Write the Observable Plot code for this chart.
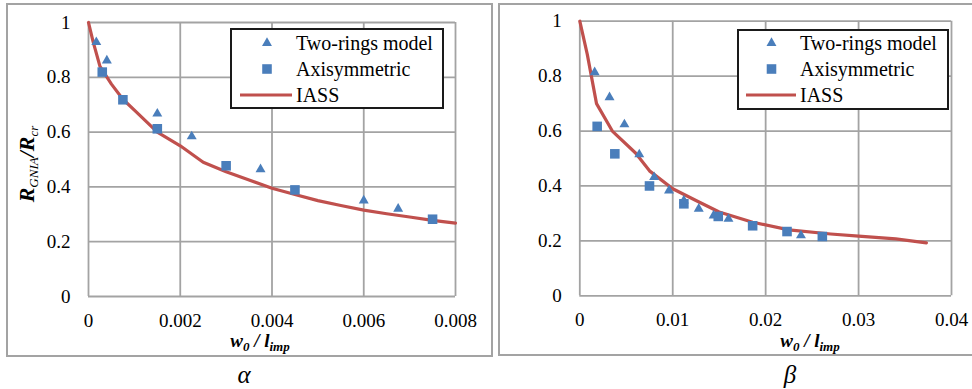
<!DOCTYPE html>
<html>
<head>
<meta charset="utf-8">
<script src="https://cdn.jsdelivr.net/npm/d3@7"></script>
<script src="https://cdn.jsdelivr.net/npm/@observablehq/plot@0.6"></script>
<style>
  html, body { margin: 0; padding: 0; background: #fff; }
  #root { position: relative; width: 972px; height: 389px; overflow: hidden; font-family: 'Liberation Serif', 'Times New Roman', serif; }
  .panel { position: absolute; box-sizing: border-box; border: 2px solid #a3a3a3; }
  .plotwrap { position: absolute; top: 0; }
  .legend { position: absolute; box-sizing: border-box; border: 2px solid #1a1a1a; background: #fff; }
  .legend svg { position: absolute; left: 0; top: 0; }
  .xlab { position: absolute; font: italic bold 19px 'Liberation Serif', serif; white-space: nowrap; transform: translate(-50%, -50%); }
  .xlab sub { font-size: 13px; vertical-align: -4px; }
  .ylab { position: absolute; font: italic bold 22px 'Liberation Serif', serif; white-space: nowrap; transform: translate(-50%, -50%) rotate(-90deg); }
  .ylab sub { font-size: 13px; font-weight: normal; vertical-align: -4px; }
  .cap { position: absolute; font: italic 25px 'Liberation Serif', serif; transform: translate(-50%, -50%); }
</style>
</head>
<body>
<div id="root"></div>
<script>
// ---------- data ----------
const yTicks = [0, 0.2, 0.4, 0.6, 0.8, 1];
const alphaXTicks = [0, 0.002, 0.004, 0.006, 0.008];
const betaXTicks = [0, 0.01, 0.02, 0.03, 0.04];
const seriesNames = ["Two-rings model", "Axisymmetric", "IASS"];
const panelCaptions = ["α", "β"];

const alphaTwoRingsX = [0.00017, 0.0004, 0.0015, 0.00225, 0.00375, 0.006, 0.00675];
const alphaTwoRingsY = [0.928, 0.861, 0.667, 0.584, 0.464, 0.35, 0.32];
const alphaAxiX = [0.0003, 0.00075, 0.0015, 0.003, 0.0045, 0.0075];
const alphaAxiY = [0.819, 0.718, 0.612, 0.477, 0.389, 0.282];
const alphaIassX = [0, 0.0001, 0.00025, 0.0005, 0.00075, 0.001, 0.0015, 0.002, 0.0025, 0.003, 0.0035, 0.004, 0.0045, 0.005, 0.0055, 0.006, 0.0065, 0.007, 0.0075, 0.008];
const alphaIassY = [1, 0.93, 0.84, 0.775, 0.72, 0.68, 0.6, 0.55, 0.49, 0.455, 0.425, 0.395, 0.372, 0.35, 0.332, 0.315, 0.302, 0.29, 0.278, 0.268];

const betaTwoRingsX = [0.0016, 0.0032, 0.0048, 0.0064, 0.008, 0.0096, 0.0112, 0.0128, 0.0144, 0.016, 0.0238];
const betaTwoRingsY = [0.814, 0.723, 0.624, 0.515, 0.432, 0.383, 0.347, 0.317, 0.292, 0.28, 0.22];
const betaAxiX = [0.00187, 0.00377, 0.0075, 0.0112, 0.0149, 0.0186, 0.0223, 0.0261];
const betaAxiY = [0.617, 0.517, 0.4, 0.335, 0.289, 0.255, 0.234, 0.216];
const betaIassX = [0, 0.0008, 0.0018, 0.0035, 0.006, 0.0075, 0.01, 0.0125, 0.015, 0.0186, 0.0225, 0.027, 0.03, 0.034, 0.0373];
const betaIassY = [1, 0.88, 0.70, 0.60, 0.52, 0.455, 0.39, 0.347, 0.305, 0.268, 0.24, 0.225, 0.217, 0.207, 0.193];

// ---------- styling ----------
const BLUE = "#4a7ebb";
const RED = "#c0504d";
const GRID = "#a3a3a3";
const fmt = d => String(+d.toFixed(4));
const zip = (xs, ys) => xs.map((x, i) => ({x, y: ys[i]}));

function makePlot({xTicks, tr, ax, iass, width, height, ml, mr, mt, mb}) {
  return Plot.plot({
    width, height,
    marginLeft: ml, marginRight: mr, marginTop: mt, marginBottom: mb,
    style: {fontFamily: "'Liberation Serif', 'Times New Roman', serif", fontSize: "19px", color: "#000", background: "transparent", overflow: "visible"},
    x: {domain: [xTicks[0], xTicks[xTicks.length - 1]]},
    y: {domain: [0, 1]},
    marks: [
      Plot.gridX(xTicks, {stroke: GRID, strokeOpacity: 1, strokeWidth: 1.8}),
      Plot.gridY(yTicks, {stroke: GRID, strokeOpacity: 1, strokeWidth: 1.8}),
      Plot.axisX(xTicks, {tickSize: 0, tickPadding: 17, tickFormat: fmt, label: null}),
      Plot.axisY(yTicks, {tickSize: 0, tickPadding: 18, tickFormat: fmt, label: null}),
      Plot.line(iass, {x: "x", y: "y", stroke: RED, strokeWidth: 3.2}),
      Plot.dot(tr, {x: "x", y: "y", symbol: "triangle", r: 3.7, fill: BLUE, stroke: null}),
      Plot.dot(ax, {x: "x", y: "y", symbol: "square", r: 5.4, fill: BLUE, stroke: null})
    ]
  });
}

function legend(left, top, w, h, symX, txtX, lineX0, lineX1) {
  const d = document.createElement("div");
  d.className = "legend";
  Object.assign(d.style, {left: left + "px", top: top + "px", width: w + "px", height: h + "px"});
  const ox = left + 2, oy = top + 2;
  const ns = "http://www.w3.org/2000/svg";
  const s = document.createElementNS(ns, "svg");
  s.setAttribute("width", w); s.setAttribute("height", h);
  s.style.overflow = "visible";
  const rows = [43, 69, 95];
  const tri = d3.symbol(d3.symbolTriangle, Math.PI * 3.7 * 3.7)();
  const sq = d3.symbol(d3.symbolSquare, Math.PI * 5.4 * 5.4)();
  let p = document.createElementNS(ns, "path");
  p.setAttribute("d", tri); p.setAttribute("fill", BLUE);
  p.setAttribute("transform", `translate(${symX - ox},${rows[0] - oy})`);
  s.appendChild(p);
  p = document.createElementNS(ns, "path");
  p.setAttribute("d", sq); p.setAttribute("fill", BLUE);
  p.setAttribute("transform", `translate(${symX - ox},${rows[1] - oy})`);
  s.appendChild(p);
  const l = document.createElementNS(ns, "line");
  l.setAttribute("x1", lineX0 - ox); l.setAttribute("x2", lineX1 - ox);
  l.setAttribute("y1", rows[2] - oy); l.setAttribute("y2", rows[2] - oy);
  l.setAttribute("stroke", RED); l.setAttribute("stroke-width", 3.2);
  s.appendChild(l);
  seriesNames.forEach((name, i) => {
    const t = document.createElementNS(ns, "text");
    t.setAttribute("x", txtX - ox); t.setAttribute("y", rows[i] - oy);
    t.setAttribute("dy", "0.34em");
    t.setAttribute("font-family", "'Liberation Serif', 'Times New Roman', serif");
    t.setAttribute("font-size", "20px");
    t.textContent = name;
    s.appendChild(t);
  });
  d.appendChild(s);
  return d;
}

const root = document.getElementById("root");

function addDiv(cls, style, html) {
  const d = document.createElement("div");
  d.className = cls;
  Object.assign(d.style, style);
  if (html) d.innerHTML = html;
  root.appendChild(d);
  return d;
}

// panel frames
addDiv("panel", {left: "6px", top: "3px", width: "487px", height: "354px"});
addDiv("panel", {left: "498px", top: "3px", width: "480px", height: "353px"});

// left plot
const w1 = addDiv("plotwrap", {left: "0px"});
w1.appendChild(makePlot({
  xTicks: alphaXTicks, tr: zip(alphaTwoRingsX, alphaTwoRingsY), ax: zip(alphaAxiX, alphaAxiY), iass: zip(alphaIassX, alphaIassY),
  width: 495, height: 356, ml: 88, mr: 40, mt: 22, mb: 60
}));
// right plot
const w2 = addDiv("plotwrap", {left: "495px"});
w2.appendChild(makePlot({
  xTicks: betaXTicks, tr: zip(betaTwoRingsX, betaTwoRingsY), ax: zip(betaAxiX, betaAxiY), iass: zip(betaIassX, betaIassY),
  width: 477, height: 356, ml: 84.3, mr: 21, mt: 20.7, mb: 60.7
}));

// legends
root.appendChild(legend(230, 28, 214, 81, 267, 296, 240, 292));
root.appendChild(legend(737, 29, 212, 81, 771.5, 800, 746, 796));

// axis labels
addDiv("ylab", {left: "28px", top: "164px"}, "R<sub>GNIA</sub>/R<sub>cr</sub>");
addDiv("xlab", {left: "260px", top: "342px"}, "w<sub>0</sub> / l<sub>imp</sub>");
addDiv("xlab", {left: "810px", top: "342px"}, "w<sub>0</sub> / l<sub>imp</sub>");
addDiv("cap", {left: "244px", top: "375px"}, panelCaptions[0]);
addDiv("cap", {left: "790px", top: "375px"}, panelCaptions[1]);
</script>
</body>
</html>
